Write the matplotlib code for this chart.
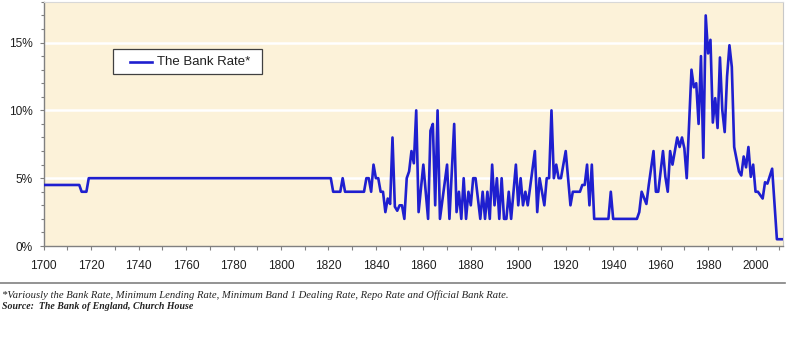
import matplotlib.pyplot as plt
from matplotlib.patches import Rectangle
from matplotlib.lines import Line2D
from matplotlib.ticker import MultipleLocator, FuncFormatter

# Bank Rate (year, % p.a.)
years = [
    1700, 1715, 1716, 1718, 1719, 1821, 1822, 1825, 1826, 1827, 1835, 1836,
    1837, 1838, 1839, 1840, 1841, 1842, 1843, 1844, 1845, 1846, 1847, 1848,
    1849, 1850, 1851, 1852, 1853, 1854, 1855, 1856, 1857, 1858, 1860, 1862,
    1863, 1864, 1865, 1866, 1867, 1870, 1871, 1873, 1874, 1875, 1876, 1877,
    1878, 1879, 1880, 1881, 1882, 1884, 1885, 1886, 1887, 1888, 1889, 1890,
    1891, 1892, 1893, 1894, 1895, 1896, 1897, 1899, 1900, 1901, 1902, 1903,
    1904, 1907, 1908, 1909, 1910, 1911, 1912, 1913, 1914, 1915, 1916, 1917,
    1918, 1920, 1921, 1922, 1923, 1926, 1927, 1928, 1929, 1930, 1931, 1932,
    1938, 1939, 1940, 1950, 1951, 1952, 1954, 1955, 1957, 1958, 1959, 1961,
    1962, 1963, 1964, 1965, 1966, 1967, 1968, 1969, 1970, 1971, 1973, 1974,
    1975, 1976, 1977, 1978, 1979, 1980, 1981, 1982, 1983, 1984, 1985, 1986,
    1987, 1988, 1989, 1990, 1991, 1993, 1994, 1995, 1996, 1997, 1998, 1999,
    2000, 2001, 2003, 2004, 2005, 2007, 2009, 2012,
]
rate = [
    4.5, 4.5, 4.0, 4.0, 5.0, 5.0, 4.0, 4.0, 5.0, 4.0, 4.0, 5.0,
    5.0, 4.0, 6.0, 5.0, 5.0, 4.0, 4.0, 2.5, 3.5, 3.1, 8.0, 2.9,
    2.6, 3.0, 3.0, 2.0, 5.0, 5.5, 7.0, 6.1, 10.0, 2.5, 6.0, 2.0,
    8.5, 9.0, 3.0, 10.0, 2.0, 6.0, 2.0, 9.0, 2.5, 4.0, 2.0, 5.0,
    2.0, 4.0, 3.0, 5.0, 5.0, 2.0, 4.0, 2.0, 4.0, 2.0, 6.0, 3.0,
    5.0, 2.0, 5.0, 2.0, 2.0, 4.0, 2.0, 6.0, 3.0, 5.0, 3.0, 4.0,
    3.0, 7.0, 2.5, 5.0, 4.0, 3.0, 5.0, 5.0, 10.0, 5.0, 6.0, 5.0,
    5.0, 7.0, 5.0, 3.0, 4.0, 4.0, 4.5, 4.5, 6.0, 3.0, 6.0, 2.0,
    2.0, 4.0, 2.0, 2.0, 2.5, 4.0, 3.1, 4.5, 7.0, 4.0, 4.0, 7.0,
    5.1, 4.0, 7.0, 6.0, 7.0, 8.0, 7.3, 8.0, 7.2, 5.0, 13.0, 11.7,
    12.0, 9.0, 14.0, 6.5, 17.0, 14.2, 15.2, 9.1, 10.9, 8.7, 13.9, 10.0,
    8.4, 12.5, 14.8, 13.2, 7.3, 5.5, 5.2, 6.6, 5.8, 7.3, 5.1, 6.0,
    4.0, 4.0, 3.5, 4.7, 4.6, 5.7, 0.5, 0.5,
]

LINE_BLUE = "#1f1fcf"
PAPER = "#fcf2d9"
LABEL = "The Bank Rate*"

fig = plt.figure(figsize=(7.87, 3.37), dpi=100)
ax = fig.add_axes([0.0555, 0.270, 0.9395, 0.7245])
ax.set_facecolor(PAPER)

for lvl in (5, 10, 15):
    ax.axhline(lvl, color="white", lw=1.8, zorder=1)

ax.plot(years, rate, color=LINE_BLUE, lw=1.9, zorder=3)

ax.set_xlim(1700, 2011.6)
ax.set_ylim(0, 18)

ax.xaxis.set_major_locator(MultipleLocator(20))
ax.xaxis.set_minor_locator(MultipleLocator(10))
ax.yaxis.set_major_locator(MultipleLocator(5))
ax.yaxis.set_minor_locator(MultipleLocator(1))
ax.yaxis.set_major_formatter(FuncFormatter(lambda v, _: f"{v:.0f}%"))

ax.tick_params(axis="x", which="both", length=3.2, width=0.8, color="#808080",
               pad=7, labelsize=8.6)
ax.tick_params(axis="y", which="major", length=3.2, width=0.8, color="#808080",
               pad=4.5, labelsize=8.6)
ax.tick_params(axis="y", which="minor", length=2.2, width=0.8, color="#808080")
for t in ax.get_xticklabels() + ax.get_yticklabels():
    t.set_fontfamily("Liberation Sans")
    t.set_color("#202020")

ax.spines["left"].set_color("#808080")
ax.spines["bottom"].set_color("#808080")
ax.spines["left"].set_linewidth(1.0)
ax.spines["bottom"].set_linewidth(1.0)
ax.spines["top"].set_color("#d8d8d8")
ax.spines["right"].set_color("#c8c8c8")
ax.spines["top"].set_linewidth(0.8)
ax.spines["right"].set_linewidth(0.8)

# legend box drawn by hand so its padding matches the original
ax.add_patch(Rectangle((0.0937, 0.7026), 0.2016, 0.1062, transform=ax.transAxes,
                       facecolor="white", edgecolor="#404040", lw=0.9, zorder=5))
ax.add_line(Line2D([0.1167, 0.1464], [0.7557, 0.7557], transform=ax.transAxes,
                   color=LINE_BLUE, lw=1.9, zorder=6))
ax.text(0.1530, 0.7557, LABEL, transform=ax.transAxes, ha="left", va="center",
        family="Liberation Sans", size=9.5, color="#202020", zorder=6)

# separator and footnotes below the chart
fig.add_artist(Line2D([0.0, 0.997], [1 - 283 / 337, 1 - 283 / 337],
                      transform=fig.transFigure, color="#808080", lw=1.2))
fig.text(0.003, 1 - 295 / 337,
         "*Variously the Bank Rate, Minimum Lending Rate, Minimum Band 1 Dealing Rate, "
         "Repo Rate and Official Bank Rate.",
         family="Liberation Serif", style="italic", size=7.63, va="center", ha="left",
         color="#222222")
fig.text(0.003, 1 - 306.5 / 337,
         "Source:  The Bank of England, Church House",
         family="Liberation Serif", style="italic", weight="bold", size=7.1,
         va="center", ha="left", color="#222222")

fig.savefig("out.png", dpi=100)
